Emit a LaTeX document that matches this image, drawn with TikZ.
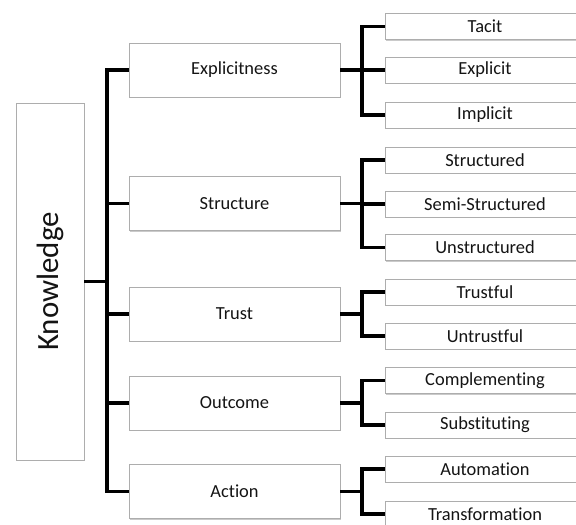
\documentclass[tikz,border=0pt]{standalone}
\usepackage{fontspec}
\setmainfont[Ligatures={NoCommon,NoRare,NoContextual}]{Carlito}
\usetikzlibrary{shadows}
\begin{document}
\begin{tikzpicture}[x=1bp,y=-1bp,
  card/.style={draw=black!32, line width=0.8bp, fill=white, rectangle,
    inner sep=0pt, text=black!92,
    drop shadow={shadow xshift=0.8bp, shadow yshift=-1.4bp, opacity=0.35, fill=black!60}},
  rootbox/.style={card, minimum width=68bp, minimum height=357bp, font=\fontsize{31}{31}\selectfont},
  midbox/.style={card, minimum width=211bp, minimum height=54bp, font=\fontsize{18.5}{20}\selectfont},
  leafbox/.style={card, minimum width=200bp, minimum height=26bp, font=\fontsize{18.5}{20}\selectfont},
  link/.style={draw=black, line width=3.2bp}]
\useasboundingbox (0,0) rectangle (576,525);
\clip (0,0) rectangle (576,525);

% root
\node[rootbox] (know) at (50,281.5) {\rotatebox{90}{Knowledge}};

% second level
\node[midbox] (expl)   at (234.5,70)    {Explicitness};
\node[midbox] (struct) at (234.5,203.5) {Structure};
\node[midbox] (trust)  at (234.5,314)   {Trust};
\node[midbox] (outc)   at (234.5,403)   {Outcome};
\node[midbox] (act)    at (234.5,491.5) {Action};

% leaves
\node[leafbox] (tacit)   at (485,26.5)  {Tacit};
\node[leafbox] (explc)   at (485,70)    {Explicit};
\node[leafbox] (implc)   at (485,115)   {Implicit};
\node[leafbox] (strd)    at (485,160)   {Structured};
\node[leafbox] (semi)    at (485,204)   {Semi-Structured};
\node[leafbox] (unstr)   at (485,247.5) {Unstructured};
\node[leafbox] (tful)    at (485,292)   {Trustful};
\node[leafbox] (untful)  at (485,336)   {Untrustful};
\node[leafbox] (compl)   at (485,380.5) {Complementing};
\node[leafbox] (subst)   at (485,425)   {Substituting};
\node[leafbox] (autom)   at (485,469)   {Automation};
\node[leafbox] (transf)  at (485,514)   {Transformation};

% trunk from the root to the second level
\coordinate (trunk) at (107,0);
\draw[link] (expl.west) -| (trunk |- act.west) -- (act.west);
\draw[link] (struct.west) -- (struct.west -| trunk);
\draw[link] (trust.west)  -- (trust.west -| trunk);
\draw[link] (outc.west)   -- (outc.west -| trunk);
\draw[link] (know.east)   -- (know.east -| trunk);

% bars from the second level to the leaves
\coordinate (bar) at (362,0);
\draw[link] (tacit.west) -| (bar |- implc.west) -- (implc.west);
\draw[link] (expl.east) -- (explc.west);
\draw[link] (strd.west) -| (bar |- unstr.west) -- (unstr.west);
\draw[link] (struct.east) -- (struct.east -| bar);
\draw[link] (semi.west) -- (semi.west -| bar);
\draw[link] (tful.west) -| (bar |- untful.west) -- (untful.west);
\draw[link] (trust.east) -- (trust.east -| bar);
\draw[link] (compl.west) -| (bar |- subst.west) -- (subst.west);
\draw[link] (outc.east) -- (outc.east -| bar);
\draw[link] (autom.west) -| (bar |- transf.west) -- (transf.west);
\draw[link] (act.east) -- (act.east -| bar);
\end{tikzpicture}
\end{document}
